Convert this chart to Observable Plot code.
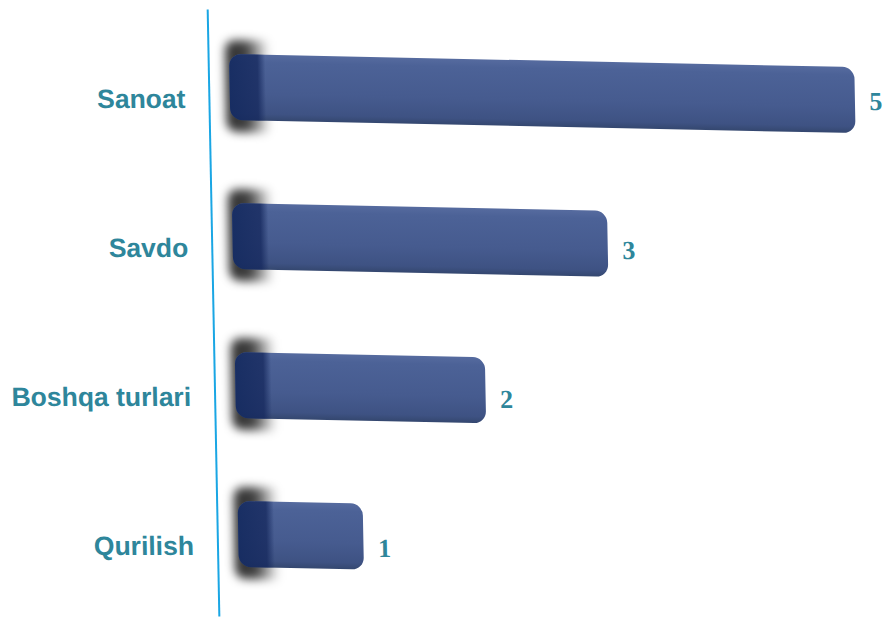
<!DOCTYPE html>
<html>
<head>
<meta charset="utf-8">
<script src="https://cdn.jsdelivr.net/npm/d3@7"></script>
<script src="https://cdn.jsdelivr.net/npm/@observablehq/plot@0.6"></script>
<style>
  html, body { margin: 0; padding: 0; background: #ffffff; }
  #chart svg { display: block; transform: skewX(1.1deg); transform-origin: 0 0; }
</style>
</head>
<body>
<div id="chart"></div>
<script>
const categories = ["Sanoat", "Savdo", "Boshqa turlari", "Qurilish"];
const values = [5, 3, 2, 1];
const data = categories.map((c, i) => ({category: c, value: values[i]}));

const labelColor = "#2e869b";

const chart = Plot.plot({
  width: 896,
  height: 618,
  marginLeft: 228,
  marginRight: 43,
  marginTop: 39,
  marginBottom: 36,
  style: {background: "#ffffff", overflow: "visible"},
  x: {domain: [0, 5], axis: null},
  y: {domain: categories, paddingInner: 0.557, paddingOuter: 0.1, label: null, axis: null},
  marks: [
    Plot.frame({anchor: "left", stroke: "#1aa6e4", strokeWidth: 2, dx: -21, insetTop: -29, insetBottom: -33}),
    Plot.barX(data, {x: "value", y: "category", fill: "url(#shadowGrad)", insetTop: -14, insetBottom: -12, dx: -4, rx: 10}),
    Plot.barX(data, {x: "value", y: "category", fill: "url(#barGrad)", rx: 12}),
    Plot.barX(data, {x: "value", y: "category", fill: "url(#capGrad)", rx: 12}),
    Plot.axisY({tickSize: 0, tickPadding: 45, dy: 12, fontSize: 26.5, fontWeight: "bold",
      fontFamily: "'Liberation Sans', Arial, sans-serif", fill: labelColor, textAnchor: "end"}),
    Plot.text(data, {x: "value", y: "category", text: d => String(d.value), textAnchor: "start",
      dx: 14, dy: 14, fontSize: 26, fontWeight: "bold",
      fontFamily: "'Liberation Serif', 'Times New Roman', serif", fill: labelColor})
  ]
});

const svg = d3.select(chart);
const defs = svg.insert("defs", ":first-child");
const bg = defs.append("linearGradient").attr("id", "barGrad")
  .attr("x1", 0).attr("y1", 0).attr("x2", 0).attr("y2", 1);
[[0, "#566b9f"], [0.12, "#4c6297"], [0.6, "#465b8f"], [0.9, "#3e5283"], [1, "#34476f"]]
  .forEach(([o, c]) => bg.append("stop").attr("offset", o).attr("stop-color", c));
const cg = defs.append("linearGradient").attr("id", "capGrad")
  .attr("gradientUnits", "userSpaceOnUse").attr("x1", 228).attr("x2", 264).attr("y1", 0).attr("y2", 0);
[[0, "#13295e", 0.9], [0.78, "#16295e", 0.8], [1, "#16295e", 0]]
  .forEach(([o, c, op]) => cg.append("stop").attr("offset", o).attr("stop-color", c).attr("stop-opacity", op));
const sg = defs.append("linearGradient").attr("id", "shadowGrad")
  .attr("gradientUnits", "userSpaceOnUse").attr("x1", 214).attr("x2", 272).attr("y1", 0).attr("y2", 0);
[[0, "#000", 0.85], [0.6, "#000", 0.75], [1, "#000", 0]]
  .forEach(([o, c, op]) => sg.append("stop").attr("offset", o).attr("stop-color", c).attr("stop-opacity", op));
defs.append("filter").attr("id", "blur").attr("x", "-20%").attr("y", "-50%").attr("width", "140%").attr("height", "200%")
  .append("feGaussianBlur").attr("stdDeviation", 5);

// perspective: bars drop slightly toward their far end
const barGroups = svg.selectAll("g[aria-label='bar']").nodes();
barGroups.forEach((g, i) => {
  const sel = d3.select(g);
  const existing = sel.attr("transform") || "";
  sel.attr("transform", `translate(228,0) skewY(1.2) translate(-228,0) ${existing}`);
  if (i === 0) sel.attr("filter", "url(#blur)");
});

document.getElementById("chart").append(chart);
</script>
</body>
</html>
